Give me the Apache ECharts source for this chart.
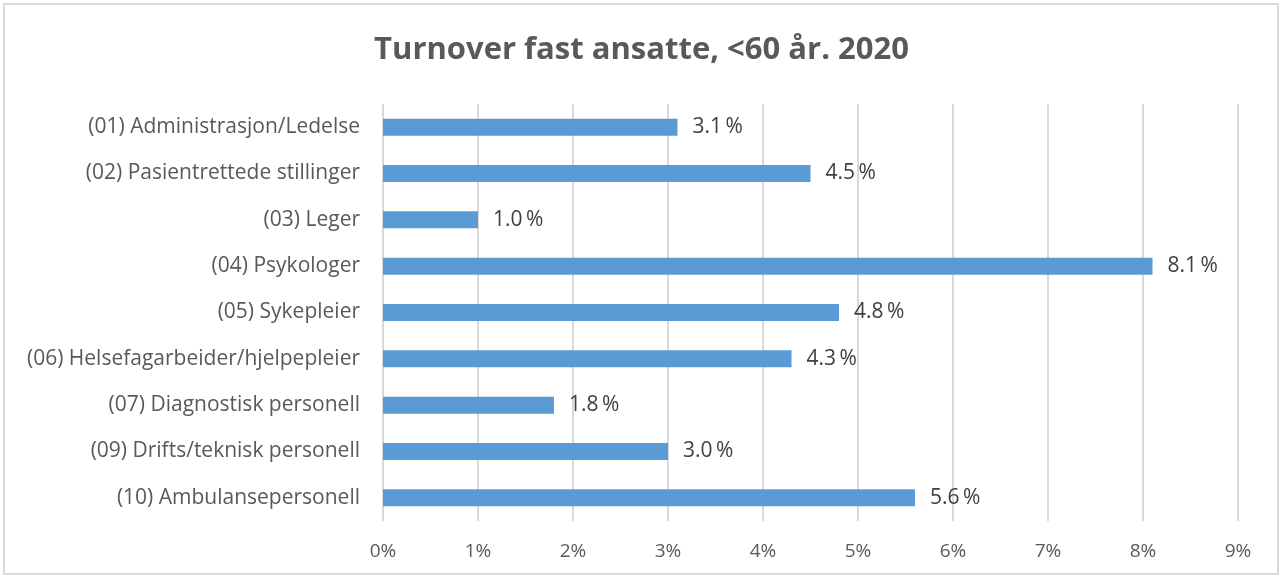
<!DOCTYPE html>
<html>
<head>
<meta charset="utf-8">
<script src="https://cdn.jsdelivr.net/npm/echarts@6/dist/echarts.min.js"></script>
<style>
  html, body { margin: 0; padding: 0; background: #fff; }
  #graph { width: 1283px; height: 578px; }
</style>
</head>
<body>
<div id="graph"></div>
<script>
const categories = [
  '(01) Administrasjon/Ledelse',
  '(02) Pasientrettede stillinger',
  '(03) Leger',
  '(04) Psykologer',
  '(05) Sykepleier',
  '(06) Helsefagarbeider/hjelpepleier',
  '(07) Diagnostisk personell',
  '(09) Drifts/teknisk personell',
  '(10) Ambulansepersonell'
]
const turnover = [3.1, 4.5, 1.0, 8.1, 4.8, 4.3, 1.8, 3.0, 5.6]

const font = '"Open Sans", Lato, sans-serif'
const chart = echarts.init(document.getElementById('graph'))

const option = {
  animation: false,
  title: {
    text: 'Turnover fast ansatte, <60 år. 2020',
    left: 'center',
    top: 30,
    textStyle: { fontFamily: font, fontSize: 31, fontWeight: 'bold', color: '#595959' }
  },
  graphic: [{
    type: 'rect',
    shape: { x: 4, y: 4, width: 1274, height: 570 },
    style: { fill: 'none', stroke: '#d9d9d9', lineWidth: 2 },
    silent: true
  }],
  grid: { left: 383, right: 45, top: 104, bottom: 57 },
  xAxis: {
    type: 'value',
    min: 0,
    max: 9,
    interval: 1,
    axisLine: { show: false },
    axisTick: { show: false },
    splitLine: { lineStyle: { color: '#d9d9d9', width: 2 } },
    axisLabel: {
      formatter: v => v + '%',
      margin: 21,
      fontFamily: font,
      fontSize: 19,
      color: '#595959'
    }
  },
  yAxis: {
    type: 'category',
    inverse: true,
    data: categories,
    axisLine: { show: false },
    axisTick: { show: false },
    axisLabel: { margin: 23, fontFamily: font, fontSize: 21, color: '#595959' }
  },
  series: [{
    type: 'bar',
    data: turnover,
    barWidth: 17,
    itemStyle: { color: '#5b9bd5' },
    label: {
      show: true,
      position: 'right',
      distance: 15,
      formatter: p => p.value.toFixed(1) + '\u2009%',
      fontFamily: font,
      fontSize: 21,
      color: '#404040'
    }
  }]
}

chart.setOption(option)
</script>
</body>
</html>
